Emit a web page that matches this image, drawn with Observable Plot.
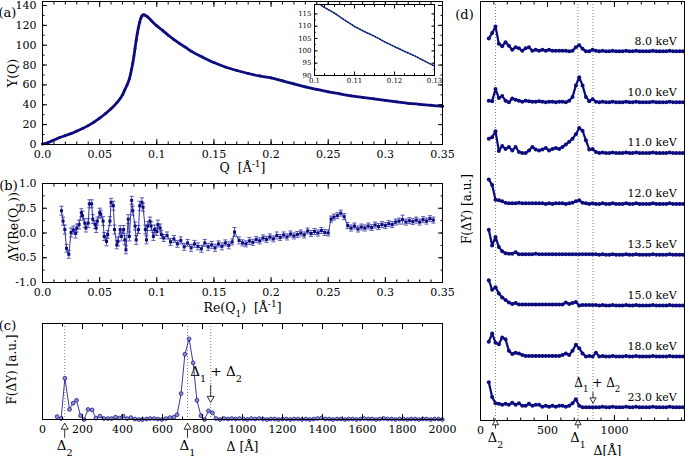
<!DOCTYPE html>
<html><head><meta charset="utf-8">
<script src="https://cdn.jsdelivr.net/npm/d3@7"></script>
<script src="https://cdn.jsdelivr.net/npm/@observablehq/plot@0.6"></script>
<style>
body{margin:0;background:#fff;}
#fig{position:relative;width:685px;height:456px;overflow:hidden;background:#fff;}
#fig svg{position:absolute;}
</style></head><body><div id="fig"></div>
<script>
// ---------- panel (a): Y(Q) ----------
const qA = [0,0.005,0.01,0.015,0.02,0.025,0.03,0.035,0.04,0.045,0.05,0.055,0.06,0.065,0.07,0.072,0.074,0.076,0.078,0.079,0.08,0.081,0.082,0.083,0.084,0.085,0.086,0.087,0.088,0.089,0.09,0.092,0.095,0.1,0.105,0.11,0.115,0.12,0.125,0.13,0.14,0.15,0.16,0.17,0.18,0.19,0.2,0.21,0.22,0.23,0.24,0.25,0.26,0.27,0.28,0.29,0.3,0.31,0.32,0.33,0.34,0.35];
const yA = [0.5,2,4.5,7,9,11,13.5,16,19,22.5,26.5,31,36,42,50,55,60,66,76,82,89,97,105,112,118,123,127,129.5,130.5,130.5,130,128.5,125,119.5,115,110,105.7,101.5,98,94,88,82.5,78,74.5,71.5,69,67,64,61,58,55.5,53,51,49,47.5,46,44.5,43,41.5,40.5,39.5,38.5];
const xTicksA = [0,0.05,0.1,0.15,0.2,0.25,0.3,0.35];
const xLabelsA = ["0.0","0.05","0.1","0.15","0.2","0.25","0.3","0.35"];
const yTicksA = [0,20,40,60,80,100,120,140];
// inset
const qI = [0.1,0.1025,0.105,0.1075,0.11,0.1125,0.115,0.1175,0.12,0.1225,0.125,0.1275,0.13];
const yI = [120.3,117.6,115.3,112.5,109.9,107.8,105.9,103.7,101.7,99.8,98.0,95.9,93.8];
const xTicksI = [0.1,0.11,0.12,0.13];
const yTicksI = [90,95,100,105,110,115];

// ---------- panel (b): ΔY(Re(Q1)) ----------
const qB = [0.0166,0.018,0.0195,0.021,0.023,0.025,0.027,0.029,0.030,0.032,0.034,0.035,0.037,0.038,0.040,0.041,0.043,0.044,0.046,0.047,0.048,0.050,0.051,0.053,0.054,0.056,0.057,0.059,0.060,0.062,0.063,0.065,0.066,0.068,0.069,0.071,0.072,0.073,0.075,0.076,0.078,0.079,0.081,0.082,0.084,0.085,0.087,0.088,0.090,0.091,0.092,0.094,0.095,0.097,0.098,0.100,0.101,0.103,0.104,
  0.106,0.109,0.112,0.115,0.118,0.121,0.124,0.127,0.130,0.133,0.136,0.139,0.142,0.145,0.148,0.151,0.154,0.157,0.160,0.163,0.166,0.168,0.172,0.175,0.178,0.181,0.184,0.187,0.190,0.193,0.196,0.199,0.202,0.205,0.208,0.211,0.214,0.217,0.220,0.223,0.226,0.229,0.232,0.235,0.238,0.241,0.244,0.247,0.250,0.2525,0.255,0.258,0.261,0.264,0.267,0.270,0.273,0.276,0.279,0.282,0.285,0.288,0.291,0.294,0.297,0.300,0.303,0.306,0.309,0.312,0.315,0.318,0.321,0.324,0.327,0.330,0.333,0.336,0.339,0.342];
const vB = [0.45,0.24,0.07,-0.31,-0.43,0.01,0.06,-0.01,0.10,0.17,0.41,0.35,0.20,0.10,0.20,0.59,0.59,0.28,0.17,0.10,0.24,0.41,0.38,0.24,-0.07,-0.17,-0.03,0.24,0.62,0.55,0.07,-0.24,-0.17,0.07,-0.07,0.07,-0.14,-0.34,0.28,-0.07,0.66,0.45,0.14,-0.14,0.07,0.55,0.62,0.52,0.07,-0.14,0.14,0.24,0.14,-0.07,0.07,0.03,0.17,0.10,-0.03,
  -0.10,-0.05,-0.18,-0.12,-0.22,-0.15,-0.28,-0.20,-0.30,-0.22,-0.27,-0.32,-0.20,-0.28,-0.24,-0.30,-0.22,-0.27,-0.20,-0.25,-0.18,0.02,-0.15,-0.20,-0.22,-0.16,-0.19,-0.13,-0.16,-0.10,-0.13,-0.08,-0.12,-0.05,-0.09,-0.04,-0.08,-0.02,-0.06,-0.03,0.00,-0.04,0.04,-0.01,0.03,0.00,0.05,0.01,0.00,0.28,0.32,0.35,0.40,0.33,0.15,0.10,0.14,0.08,0.12,0.10,0.14,0.11,0.16,0.13,0.17,0.15,0.19,0.17,0.22,0.24,0.27,0.22,0.25,0.23,0.26,0.22,0.27,0.24,0.29,0.26];
const errB = [0.09,0.08,0.09,0.08,0.08,0.09,0.08,0.09,0.08,0.09,0.08,0.09,0.09,0.08,0.09,0.08,0.08,0.09,0.08,0.09,0.08,0.09,0.08,0.09,0.08,0.09,0.08,0.09,0.08,0.09,0.09,0.08,0.09,0.08,0.09,0.08,0.09,0.08,0.09,0.09,0.08,0.09,0.08,0.09,0.08,0.09,0.09,0.08,0.09,0.08,0.09,0.08,0.09,0.08,0.09,0.08,0.09,0.08,0.08,
  0.07,0.07,0.07,0.07,0.07,0.07,0.07,0.07,0.07,0.07,0.07,0.07,0.07,0.07,0.07,0.07,0.06,0.07,0.06,0.07,0.06,0.09,0.07,0.06,0.06,0.07,0.06,0.06,0.06,0.06,0.06,0.06,0.06,0.07,0.06,0.06,0.06,0.06,0.06,0.06,0.06,0.06,0.06,0.06,0.06,0.06,0.06,0.06,0.06,0.06,0.06,0.06,0.06,0.06,0.06,0.06,0.06,0.06,0.06,0.06,0.06,0.06,0.06,0.06,0.06,0.06,0.06,0.06,0.06,0.06,0.09,0.06,0.06,0.06,0.06,0.06,0.06,0.06,0.06,0.06];
const yTicksB = [-1,-0.5,0,0.5,1];

// ---------- panel (c): F(ΔY) ----------
const deltaC = [73,93,112,135,153,170,190,208,228,248,267,287,307,327,345,365,385,403,423,442,462,482,500,520,538,558,577,597,617,637,657,673,693,712,733,753,772,792,810,830,850,868,888,907,
  927,946,966,985,1005,1024,1044,1063,1083,1102,1122,1141,1161,1180,1200,1219,1239,1258,1278,1297,1317,1336,1356,1375,1395,1414,1434,1453,1473,1492,1512,1531,1551,1570,1590,1609,1629,1648,1668,1687,1707,1726,1746,1765,1785,1804,1824,1843,1863,1882,1902,1921,1941,1960,1980,1999];
const fC = [0.03,0.01,0.43,0.105,0.17,0.2,0.04,0.0,0.105,0.1,0.015,0.035,0.01,0.01,0.01,0.025,0.015,0.035,0.01,0.02,0.005,0.0,0.0,0.005,0.01,0.01,0.005,0.0,0.01,0.02,0.025,0.05,0.27,0.68,0.84,0.59,0.2,0.04,0.0,0.09,0.07,0.01,0.0,0.01,
  0.005,0.01,0.005,0.01,0.005,0.0,0.01,0.005,0.01,0.005,0.0,0.005,0.005,0.0,0.005,0.005,0.0,0.005,0.005,0.0,0.005,0.0,0.005,0.01,0.015,0.005,0.005,0.0,0.005,0.005,0.0,0.005,0.005,0.0,0.005,0.01,0.005,0.005,0.0,0.005,0.01,0.005,0.005,0.0,0.005,0.005,0.0,0.005,0.005,0.0,0.005,0.005,0.0,0.005,0.005,0.0];
const xTicksC = [0,200,400,600,800,1000,1200,1400,1600,1800,2000];
const markC = [111, 725, 841];            // Δ2, Δ1, Δ1+Δ2

// ---------- panel (d): F(ΔY) vs energy ----------
const deltaD = [62,87,112,137,162,187,212,237,262,287,312,337,362,387,412,437,462,487,512,537,562,587,612,637,662,687,712,737,762,787,812,837,862,887,912,937,962,987,1012,1037,1062,1087,1112,1137,1162,1187,1212,1237,1262,1287,1312,1337,1362,1387,1412,1437,1462,1487,1512];
const energies = ["8.0 keV","10.0 keV","11.0 keV","12.0 keV","13.5 keV","15.0 keV","18.0 keV","23.0 keV"];
const tailD = [0,0.01,0,0,0.01,0,0,0,0.01,0,0,0.01,0,0,0,0,0.01,0,0,0,0,0.01,0,0,0,0];
const f8  = [0.25,0.36,0.49,0.15,0.10,0.18,0.11,0.03,0.08,0.06,0.01,0.06,0.08,0.01,0.03,0.01,0.03,0.01,0.03,0.01,0.01,0.01,0.01,0.01,0,0.01,0.08,0.12,0.05,0,0,0.03,0.01, ...tailD];
const f10 = [0.03,0.02,0.26,0.08,0.12,0.03,0,0.07,0.05,0.03,0.01,0.03,0.02,0.01,0.01,0.02,0.01,0,0.01,0.01,0,0.01,0.01,0,0.03,0.10,0.33,0.49,0.33,0.10,0.02,0.06,0.01, ...tailD];
const f11 = [0.28,0.31,0.43,0.04,0.14,0.08,0.12,0.05,0.12,0.02,0,0,0.05,0.12,0.07,0.05,0.07,0.10,0.05,0.08,0.10,0.08,0.12,0.17,0.22,0.28,0.37,0.49,0.44,0.25,0.07,0.08,0.02, ...tailD];
const f12 = [0.48,0.37,0.08,0.07,0.05,0.02,0.01,0.01,0.01,0.02,0.01,0.01,0.01,0.01,0.01,0.01,0.01,0,0.01,0,0.01,0.01,0.01,0,0.01,0.02,0.05,0.07,0.02,0.01,0,0.01,0, ...tailD];
const f135= [0.49,0.18,0.35,0.15,0.07,0.03,0.02,0.02,0.05,0.01,0.01,0.01,0.01,0.01,0.02,0.01,0.01,0.01,0.01,0.01,0.01,0.01,0.01,0.01,0.01,0.01,0.01,0.01,0.01,0.01,0.01,0.01,0.01, ...tailD];
const f15 = [0.5,0.31,0.36,0.24,0.16,0.11,0.06,0.03,0.05,0.02,0.02,0.02,0.02,0.02,0.02,0.02,0.02,0.02,0.02,0.02,0.02,0.02,0.02,0.06,0.03,0.05,0.07,0,0.01,0.01,0.01,0.01,0.01, ...tailD];
const f18 = [0.29,0.45,0.27,0.24,0.37,0.34,0.11,0.05,0.07,0.06,0.03,0.01,0.01,0.01,0.01,0.01,0.01,0.01,0.01,0.01,0.01,0.01,0.03,0.06,0.03,0.11,0.23,0.16,0.06,0,0.01,0,0.07, ...tailD];
const f23 = [0.49,0.2,0.08,0.07,0.05,0.07,0.05,0.09,0.05,0.08,0.03,0.03,0.07,0.03,0.05,0.05,0.01,0.03,0.01,0.03,0.01,0.03,0.03,0.01,0.03,0.08,0.16,0.03,0,0,0,0,0, ...tailD];
const seriesD = [f8,f10,f11,f12,f135,f15,f18,f23];
const offsetsD = [7,6,5,4,3,2,1,0];
const xTicksD = [0,500,1000];
const markD = [112, 728, 840];            // Δ2, Δ1, Δ1+Δ2

// ---------- helpers ----------
const navy = "#0c0c7e";
const FONT = "DejaVu Serif";
const baseStyle = {fontFamily: FONT, fontSize: "11px", background: "none", overflow: "visible", color: "black"};

function box({xTicks, xFormat, xMinor, yTicks, yFormat, yMinor, fs = 11, pad = 11, tick = 5}) {
  const m = [];
  const blank = () => "";
  if (xTicks) {
    m.push(Plot.axisX(xTicks, {anchor: "bottom", tickSize: -tick, tickPadding: pad, tickFormat: xFormat, label: null, fontSize: fs}));
    m.push(Plot.axisX(xTicks, {anchor: "top", tickSize: -tick, tickFormat: blank, label: null}));
  }
  if (xMinor) {
    m.push(Plot.axisX(xMinor, {anchor: "bottom", tickSize: -tick / 2, tickFormat: blank, label: null}));
    m.push(Plot.axisX(xMinor, {anchor: "top", tickSize: -tick / 2, tickFormat: blank, label: null}));
  }
  if (yTicks) {
    m.push(Plot.axisY(yTicks, {anchor: "left", tickSize: -tick, tickPadding: pad, tickFormat: yFormat, label: null, fontSize: fs}));
    m.push(Plot.axisY(yTicks, {anchor: "right", tickSize: -tick, tickFormat: blank, label: null}));
  }
  if (yMinor) {
    m.push(Plot.axisY(yMinor, {anchor: "left", tickSize: -tick / 2, tickFormat: blank, label: null}));
    m.push(Plot.axisY(yMinor, {anchor: "right", tickSize: -tick / 2, tickFormat: blank, label: null}));
  }
  m.push(Plot.frame({stroke: "black", strokeWidth: 1}));
  return m;
}
const rng = (a, b, s) => d3.range(Math.round(a / s), Math.round(b / s) + 1).map(i => +(i * s).toFixed(6));

function rich(svg) {
  d3.select(svg).selectAll("text").each(function () {
    const t = this.textContent;
    if (!/[_^]/.test(t)) return;
    const el = d3.select(this); el.text(null);
    const re = /([_^])(\{[^}]*\}|.)/g; let last = 0, mm;
    while ((mm = re.exec(t))) {
      if (mm.index > last) el.append("tspan").text(t.slice(last, mm.index));
      const s = mm[2].startsWith("{") ? mm[2].slice(1, -1) : mm[2];
      el.append("tspan").attr("baseline-shift", mm[1] === "_" ? "sub" : "super").attr("font-size", "72%").text(s);
      last = re.lastIndex;
    }
    if (last < t.length) el.append("tspan").text(t.slice(last));
  });
}
const fig = document.getElementById("fig");
function place(svg, left, top) { rich(svg); svg.style.left = left + "px"; svg.style.top = top + "px"; fig.appendChild(svg); }
const capSymbol = {draw(ctx, size) { const w = Math.sqrt(size) / 2; ctx.moveTo(-w, 0); ctx.lineTo(w, 0); }};
const yTitle = (t, dx, dy = 0, fs = 12.5) => Plot.text([t], {frameAnchor: "left", textAnchor: "middle", lineAnchor: "middle", dx, dy, rotate: -90, fontSize: fs});

// ---------- build (a) ----------
const dataA = qA.map((q, i) => ({q, y: yA[i]}));
place(Plot.plot({
  width: 450, height: 176, marginTop: 1, marginRight: 8, marginBottom: 32, marginLeft: 42,
  style: baseStyle,
  x: {domain: [0, 0.35]}, y: {domain: [0, 144]},
  marks: [
    Plot.line(dataA, {x: "q", y: "y", stroke: navy, strokeWidth: 2.8, curve: "monotone-x"}),
    Plot.dot(dataA, {x: "q", y: "y", r: 1.4, fill: navy}),
    ...box({xTicks: xTicksA, xFormat: d => xLabelsA[xTicksA.indexOf(d)], xMinor: rng(0, 0.35, 0.01), yTicks: yTicksA, yMinor: rng(0, 140, 10)}),
    Plot.text(["Q  [Å^{-1}]"], {frameAnchor: "bottom", dy: 23, fontSize: 12.5, lineAnchor: "middle"}),
    yTitle("Y(Q)", -30),
    Plot.text(["(a)"], {frameAnchor: "top-left", dx: -35, dy: 11.5, fontSize: 13, textAnchor: "middle", lineAnchor: "middle"})
  ]
}), 0, 0);

// inset
const dataI = qI.map((q, i) => ({q, y: yI[i]}));
place(Plot.plot({
  width: 150, height: 92, marginTop: 4, marginRight: 6, marginBottom: 17, marginLeft: 24,
  style: {...baseStyle, fontSize: "7px"},
  x: {domain: [0.1, 0.13]}, y: {domain: [90, 118.8]},
  marks: [
    Plot.frame({fill: "white"}),
    Plot.line(dataI, {x: "q", y: "y", stroke: "#3c9a88", strokeWidth: 1.3, clip: true}),
    Plot.line(dataI, {x: "q", y: "y", stroke: navy, strokeWidth: 1.5, strokeDasharray: "1,1.8", clip: true}),
    ...box({xTicks: xTicksI, xFormat: d => String(d), xMinor: rng(0.1, 0.13, 0.0025), yTicks: yTicksI, yMinor: rng(90, 115, 2.5), fs: 7, pad: 6.5, tick: 3.5})
  ]
}), 290, 0);

// ---------- build (b) ----------
const dataB = qB.map((q, i) => ({q, v: vB[i], lo: vB[i] - errB[i], hi: vB[i] + errB[i]}));
place(Plot.plot({
  width: 450, height: 152, marginTop: 23, marginRight: 8, marginBottom: 30, marginLeft: 42,
  style: baseStyle,
  x: {domain: [0, 0.35]}, y: {domain: [-1, 1]},
  marks: [
    Plot.ruleX(dataB, {x: "q", y1: "lo", y2: "hi", stroke: "#5a5ab8", strokeWidth: 1}),
    Plot.dot(dataB, {x: "q", y: "lo", symbol: capSymbol, r: 2.3, stroke: "#5a5ab8", strokeWidth: 1}),
    Plot.dot(dataB, {x: "q", y: "hi", symbol: capSymbol, r: 2.3, stroke: "#5a5ab8", strokeWidth: 1}),
    Plot.line(dataB, {x: "q", y: "v", stroke: "#3434a0", strokeWidth: 1}),
    Plot.dot(dataB, {x: "q", y: "v", symbol: "square", r: 1.7, fill: navy}),
    ...box({xTicks: xTicksA, xFormat: d => xLabelsA[xTicksA.indexOf(d)], xMinor: rng(0, 0.35, 0.01), yTicks: yTicksB, yFormat: d => d.toFixed(1), yMinor: rng(-1, 1, 0.25)}),
    Plot.text(["Re(Q_1)  [Å^{-1}]"], {frameAnchor: "bottom", dy: 25, fontSize: 12.5, lineAnchor: "middle"}),
    yTitle("ΔY(Re(Q_1))", -29, -6),
    Plot.text(["(b)"], {frameAnchor: "top-left", dx: -34, dy: 2, fontSize: 13, textAnchor: "middle", lineAnchor: "middle"})
  ]
}), 0, 160);

// ---------- build (c) ----------
const dataC = deltaC.map((d, i) => ({d, f: fC[i]}));
const upC = [{x: markC[0], t: "Δ_2"}, {x: markC[1], t: "Δ_1"}];
place(Plot.plot({
  width: 450, height: 156, marginTop: 23, marginRight: 8, marginBottom: 37, marginLeft: 42,
  style: baseStyle,
  x: {domain: [0, 2000]}, y: {domain: [0, 1], axis: null},
  marks: [
    Plot.ruleX(markC, {stroke: "#777", strokeWidth: 0.9, strokeDasharray: "1,2"}),
    Plot.line(dataC, {x: "d", y: "f", stroke: "#3a3aa6", strokeWidth: 1}),
    Plot.dot(dataC, {x: "d", y: "f", r: 1.9, fill: "#8f8fd0", stroke: "#1c1c88", strokeWidth: 0.8}),
    ...box({xTicks: xTicksC, xFormat: d => String(d), xMinor: rng(0, 2000, 100)}),
    // arrows below axis
    Plot.link(upC, {x1: "x", x2: "x", y1: -0.19, y2: -0.07, stroke: "black", strokeWidth: 0.8}),
    Plot.dot(upC, {x: "x", y: -0.08, symbol: "triangle", r: 2.6, fill: "white", stroke: "black", strokeWidth: 0.8}),
    Plot.text(upC, {x: "x", y: -0.27, text: "t", fontSize: 13.5}),
    // Δ1 + Δ2 arrow
    Plot.link([markC[2]], {x1: d => d, x2: d => d, y1: 0.36, y2: 0.21, stroke: "black", strokeWidth: 0.8}),
    Plot.dot([markC[2]], {x: d => d, y: 0.22, symbol: "triangle", rotate: 180, r: 2.6, fill: "white", stroke: "black", strokeWidth: 0.8}),
    Plot.text(["Δ_1 + Δ_2"], {x: 868, y: 0.5, fontSize: 13.5}),
    Plot.text(["Δ [Å]"], {frameAnchor: "bottom", dy: 27, fontSize: 12.5, lineAnchor: "middle"}),
    yTitle("F(ΔY) [a.u.]", -30, -2, 12),
    Plot.text(["(c)"], {frameAnchor: "top-left", dx: -35, dy: 2, fontSize: 13, textAnchor: "middle", lineAnchor: "middle"})
  ]
}), 0, 300);

// ---------- build (d) ----------
const dataD = seriesD.flatMap((vals, s) => deltaD.map((d, i) => ({d, y: offsetsD[s] + vals[i], e: energies[s]})));
const labD = energies.map((e, s) => ({e, y: offsetsD[s] + 0.2}));
const upD = [{x: markD[0], t: "Δ_2"}, {x: markD[1], t: "Δ_1"}];
place(Plot.plot({
  width: 235, height: 456, marginTop: 1, marginRight: 1, marginBottom: 36, marginLeft: 30,
  style: baseStyle,
  x: {domain: [0, 1523]}, y: {domain: [-0.26, 7.98], axis: null},
  marks: [
    Plot.ruleX(markD, {stroke: "#777", strokeWidth: 0.9, strokeDasharray: "1,2"}),
    Plot.line(dataD, {x: "d", y: "y", z: "e", stroke: navy, strokeWidth: 2.2}),
    Plot.dot(dataD, {x: "d", y: "y", r: 2, fill: navy}),
    Plot.text(labD, {x: 1465, y: "y", text: "e", textAnchor: "end", fontSize: 11}),
    ...box({xTicks: xTicksD, xFormat: d => String(d), xMinor: rng(0, 1500, 100)}),
    Plot.link(upD, {x1: "x", x2: "x", y1: -0.42, y2: -0.3, stroke: "black", strokeWidth: 0.8}),
    Plot.dot(upD, {x: "x", y: -0.31, symbol: "triangle", r: 2.3, fill: "white", stroke: "black", strokeWidth: 0.8}),
    Plot.text(upD, {x: "x", y: -0.6, text: "t", fontSize: 13}),
    Plot.link([markD[2]], {x1: d => d, x2: d => d, y1: 0.3, y2: 0.14, stroke: "black", strokeWidth: 0.8}),
    Plot.dot([markD[2]], {x: d => d, y: 0.15, symbol: "triangle", rotate: 180, r: 2.3, fill: "white", stroke: "black", strokeWidth: 0.8}),
    Plot.text(["Δ_1 + Δ_2"], {x: 872, y: 0.47, fontSize: 12}),
    Plot.text(["Δ[Å]"], {frameAnchor: "bottom", dx: 25, dy: 30, fontSize: 12.5, lineAnchor: "middle"}),
    yTitle("F(ΔY) [a.u.]", -13, -2, 12),
    Plot.text(["(d)"], {frameAnchor: "top-left", dx: -16, dy: 13, fontSize: 13, textAnchor: "middle", lineAnchor: "middle"})
  ]
}), 450, 0);
</script></body></html>
